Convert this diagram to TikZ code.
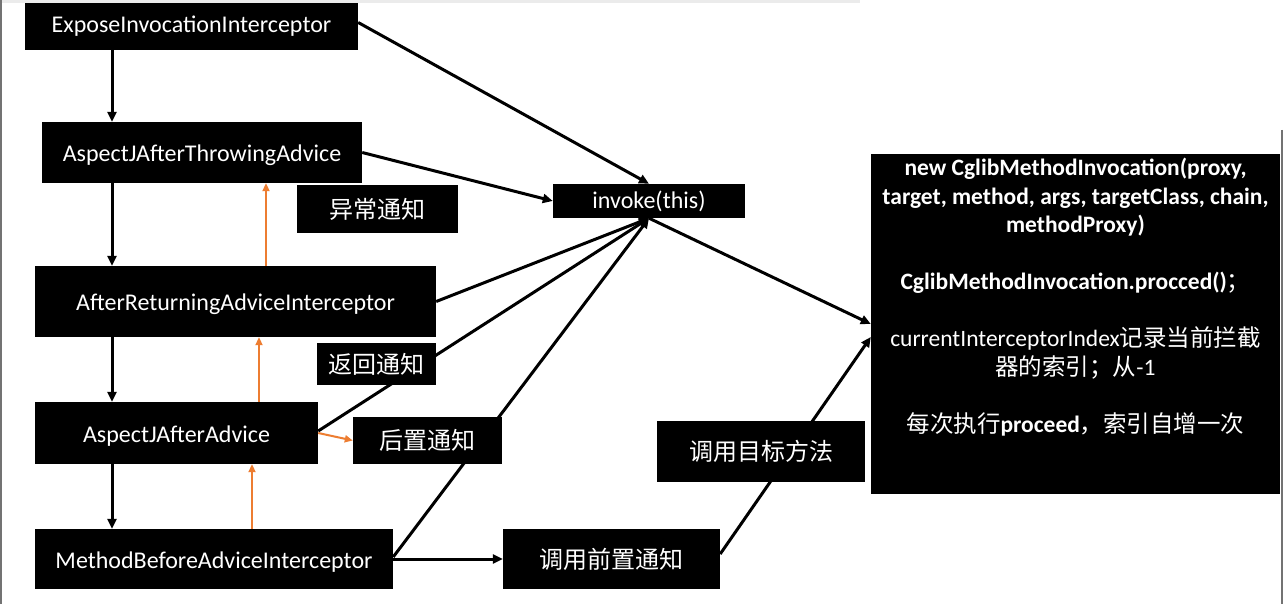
\documentclass[tikz,border=0pt]{standalone}
\usepackage{fontspec}
\setmainfont{Carlito}
\newfontfamily\cjkfont{Noto Sans CJK SC}
\newcommand\cjk[1]{{\cjkfont #1}}
\usetikzlibrary{arrows.meta,backgrounds}
\definecolor{accent}{HTML}{ED7D31}
\begin{document}
\begin{tikzpicture}[x=1pt,y=-1pt,
  box/.style={fill=black,text=white,inner sep=0pt,font=\fontsize{24}{28}\selectfont},
  low/.style={text height=18pt,text depth=0pt},
  arr/.style={line width=3pt,-{Triangle[length=10pt,width=9pt]}},
  oarr/.style={draw=accent,line width=2pt,-{Triangle[length=8pt,width=7pt]}},
  frame/.style={draw=black!55,line width=2pt}
]
\useasboundingbox (0,0) rectangle (1283,604);
% nodes
\node[box,minimum width=333pt,minimum height=47pt] (expose) at (191.5,26.5) {ExposeInvocationInterceptor};
\node[box,low,minimum width=320pt,minimum height=61pt] (throw) at (202,152.5) {AspectJAfterThrowingAdvice};
\node[box,minimum width=161pt,minimum height=48pt] (yichang) at (377.5,209) {\cjk{异常通知}};
\node[box,minimum width=192pt,minimum height=34pt] (invoke) at (649,201) {invoke(this)};
\node[box,low,minimum width=401pt,minimum height=71pt] (afterret) at (235.5,301.5) {AfterReturningAdviceInterceptor};
\node[box,minimum width=119pt,minimum height=42pt] (fanhui) at (376.5,364) {\cjk{返回通知}};
\node[box,low,minimum width=283pt,minimum height=62pt] (after) at (176.5,433) {AspectJAfterAdvice};
\node[box,minimum width=149pt,minimum height=47pt] (houzhi) at (427.5,440.5) {\cjk{后置通知}};
\node[box,low,minimum width=358pt,minimum height=60pt] (before) at (214,559) {MethodBeforeAdviceInterceptor};
\node[box,minimum width=217pt,minimum height=60pt] (qianzhi) at (611.5,559) {\cjk{调用前置通知}};
\node[box,minimum width=208pt,minimum height=61pt] (mubiao) at (761,451.5) {\cjk{调用目标方法}};
\node[box,minimum width=409pt,minimum height=340pt,align=center,font=\fontsize{23.5}{28.5}\selectfont] (big) at (1075.5,324)
 {\textbf{new CglibMethodInvocation(proxy,}\\
  \textbf{target, method, args, targetClass, chain,}\\
  \textbf{methodProxy)}\\[28.5pt]
  \textbf{CglibMethodInvocation.procced()}\cjk{；}\\[28.5pt]
  currentInterceptorIndex\cjk{记录当前拦截}\\
  \cjk{器的索引；从}-1\\[28.5pt]
  \cjk{每次执行}\textbf{proceed}\cjk{，索引自增一次}\\[28.5pt]
  ~};
% frame artifacts
\fill[black!8] (0,0) rectangle (860,3);
\draw[frame] (1,0) -- (1,604);
\draw[frame] (1281.5,130) -- (1281.5,604);
\coordinate (colx) at (112,0);
\coordinate (ox1) at (266,0);
\coordinate (ox2) at (259,0);
\coordinate (ox3) at (252,0);
\begin{pgfonlayer}{background}
\fill[white] (0,0) rectangle (1283,604);
% chain
\draw[arr] (expose.south -| colx) -- (throw.north -| colx);
\draw[arr] (throw.south -| colx) -- (afterret.north -| colx);
\draw[arr] (afterret.south -| colx) -- (after.north -| colx);
\draw[arr] (after.south -| colx) -- (before.north -| colx);
% returns
\draw[oarr] (afterret.north -| ox1) -- (throw.south -| ox1);
\draw[oarr] (after.north -| ox2) -- (afterret.south -| ox2);
\draw[oarr] (before.north -| ox3) -- (after.south -| ox3);
\draw[oarr] (after.east) -- (houzhi.west);
% to invoke
\draw[arr] ([yshift=4pt]expose.east) -- (invoke.north);
\draw[arr] (throw.east) -- (invoke.west);
\draw[arr] (afterret.east) -- (invoke.south);
\draw[arr] ([yshift=2pt]after.east) -- (invoke.south);
\draw[arr] ([yshift=2pt]before.east) -- (invoke.south);
\draw[arr] (before.east) -- (qianzhi.west);
\draw[arr] (invoke.south) -- (big.west);
\draw[arr] ([yshift=5pt]qianzhi.east) -- ([yshift=-13pt]big.west);
\end{pgfonlayer}
\end{tikzpicture}
\end{document}
